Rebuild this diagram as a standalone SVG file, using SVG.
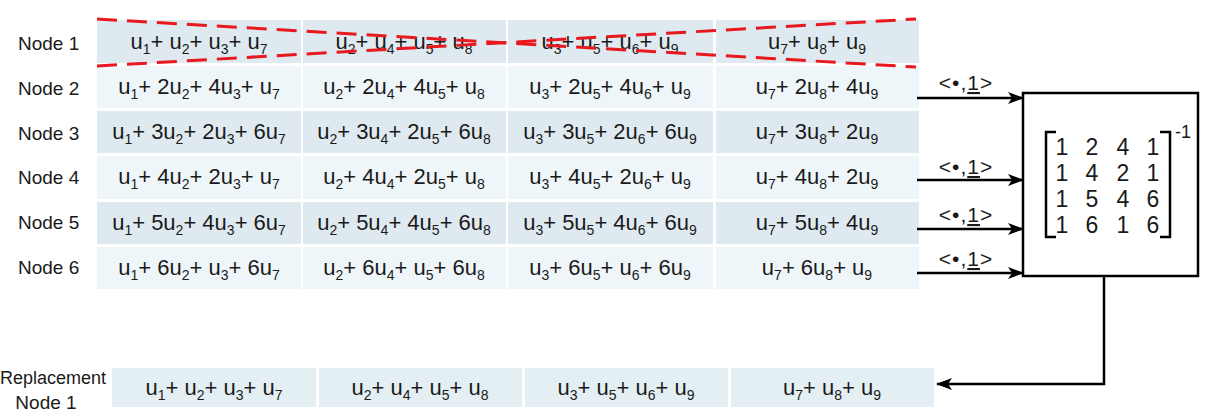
<svg xmlns="http://www.w3.org/2000/svg" width="1215" height="415" viewBox="0 0 1215 415">
<style>
text{font-family:"Liberation Sans",Arial,sans-serif;fill:#1a1a1a}
.lbl{font-size:19px}
.c{font-size:22px;text-anchor:middle}
.s{font-size:14px}
.dk{fill:#dfeaf0}
.lt{fill:#eff6f9}
.rp{fill:#e4eff3}
.m{font-size:23px;text-anchor:middle}
.ar{font-size:21px;text-anchor:middle;letter-spacing:1px}
.ln{stroke:#000;stroke-width:2.5;fill:none}
</style>
<defs>
<marker id="ah" viewBox="0 0 16 12" refX="15" refY="6" markerWidth="16" markerHeight="12" markerUnits="userSpaceOnUse" orient="auto">
<path d="M0,0 L16,6 L0,12 L4,6 z" fill="#000"/>
</marker>
</defs>
<rect width="1215" height="415" fill="#fff"/>

<g id="node1">
<text class="lbl" x="18" y="50">Node 1</text>
<rect class="dk" x="97" y="20" width="204" height="43"/>
<rect class="dk" x="303" y="20" width="203" height="43"/>
<rect class="dk" x="508" y="20" width="205" height="43"/>
<rect class="dk" x="716" y="20" width="203" height="43"/>
<text class="c" x="199" y="49">u<tspan class="s" dy="5">1</tspan><tspan dy="-5">+ u</tspan><tspan class="s" dy="5">2</tspan><tspan dy="-5">+ u</tspan><tspan class="s" dy="5">3</tspan><tspan dy="-5">+ u</tspan><tspan class="s" dy="5">7</tspan></text>
<text class="c" x="404" y="49">u<tspan class="s" dy="5">2</tspan><tspan dy="-5">+ u</tspan><tspan class="s" dy="5">4</tspan><tspan dy="-5">+ u</tspan><tspan class="s" dy="5">5</tspan><tspan dy="-5">+ u</tspan><tspan class="s" dy="5">8</tspan></text>
<text class="c" x="610" y="49">u<tspan class="s" dy="5">3</tspan><tspan dy="-5">+ u</tspan><tspan class="s" dy="5">5</tspan><tspan dy="-5">+ u</tspan><tspan class="s" dy="5">6</tspan><tspan dy="-5">+ u</tspan><tspan class="s" dy="5">9</tspan></text>
<text class="c" x="817" y="49">u<tspan class="s" dy="5">7</tspan><tspan dy="-5">+ u</tspan><tspan class="s" dy="5">8</tspan><tspan dy="-5">+ u</tspan><tspan class="s" dy="5">9</tspan></text>
</g>

<g id="node2">
<text class="lbl" x="18" y="95">Node 2</text>
<rect class="lt" x="97" y="66" width="204" height="42"/>
<rect class="lt" x="303" y="66" width="203" height="42"/>
<rect class="lt" x="508" y="66" width="205" height="42"/>
<rect class="lt" x="716" y="66" width="203" height="42"/>
<text class="c" x="199" y="94">u<tspan class="s" dy="5">1</tspan><tspan dy="-5">+ 2u</tspan><tspan class="s" dy="5">2</tspan><tspan dy="-5">+ 4u</tspan><tspan class="s" dy="5">3</tspan><tspan dy="-5">+ u</tspan><tspan class="s" dy="5">7</tspan></text>
<text class="c" x="404" y="94">u<tspan class="s" dy="5">2</tspan><tspan dy="-5">+ 2u</tspan><tspan class="s" dy="5">4</tspan><tspan dy="-5">+ 4u</tspan><tspan class="s" dy="5">5</tspan><tspan dy="-5">+ u</tspan><tspan class="s" dy="5">8</tspan></text>
<text class="c" x="610" y="94">u<tspan class="s" dy="5">3</tspan><tspan dy="-5">+ 2u</tspan><tspan class="s" dy="5">5</tspan><tspan dy="-5">+ 4u</tspan><tspan class="s" dy="5">6</tspan><tspan dy="-5">+ u</tspan><tspan class="s" dy="5">9</tspan></text>
<text class="c" x="817" y="94">u<tspan class="s" dy="5">7</tspan><tspan dy="-5">+ 2u</tspan><tspan class="s" dy="5">8</tspan><tspan dy="-5">+ 4u</tspan><tspan class="s" dy="5">9</tspan></text>
</g>

<g id="node3">
<text class="lbl" x="18" y="140">Node 3</text>
<rect class="dk" x="97" y="111" width="204" height="42"/>
<rect class="dk" x="303" y="111" width="203" height="42"/>
<rect class="dk" x="508" y="111" width="205" height="42"/>
<rect class="dk" x="716" y="111" width="203" height="42"/>
<text class="c" x="199" y="139">u<tspan class="s" dy="5">1</tspan><tspan dy="-5">+ 3u</tspan><tspan class="s" dy="5">2</tspan><tspan dy="-5">+ 2u</tspan><tspan class="s" dy="5">3</tspan><tspan dy="-5">+ 6u</tspan><tspan class="s" dy="5">7</tspan></text>
<text class="c" x="404" y="139">u<tspan class="s" dy="5">2</tspan><tspan dy="-5">+ 3u</tspan><tspan class="s" dy="5">4</tspan><tspan dy="-5">+ 2u</tspan><tspan class="s" dy="5">5</tspan><tspan dy="-5">+ 6u</tspan><tspan class="s" dy="5">8</tspan></text>
<text class="c" x="610" y="139">u<tspan class="s" dy="5">3</tspan><tspan dy="-5">+ 3u</tspan><tspan class="s" dy="5">5</tspan><tspan dy="-5">+ 2u</tspan><tspan class="s" dy="5">6</tspan><tspan dy="-5">+ 6u</tspan><tspan class="s" dy="5">9</tspan></text>
<text class="c" x="817" y="139">u<tspan class="s" dy="5">7</tspan><tspan dy="-5">+ 3u</tspan><tspan class="s" dy="5">8</tspan><tspan dy="-5">+ 2u</tspan><tspan class="s" dy="5">9</tspan></text>
</g>

<g id="node4">
<text class="lbl" x="18" y="184">Node 4</text>
<rect class="lt" x="97" y="156" width="204" height="43"/>
<rect class="lt" x="303" y="156" width="203" height="43"/>
<rect class="lt" x="508" y="156" width="205" height="43"/>
<rect class="lt" x="716" y="156" width="203" height="43"/>
<text class="c" x="199" y="184">u<tspan class="s" dy="5">1</tspan><tspan dy="-5">+ 4u</tspan><tspan class="s" dy="5">2</tspan><tspan dy="-5">+ 2u</tspan><tspan class="s" dy="5">3</tspan><tspan dy="-5">+ u</tspan><tspan class="s" dy="5">7</tspan></text>
<text class="c" x="404" y="184">u<tspan class="s" dy="5">2</tspan><tspan dy="-5">+ 4u</tspan><tspan class="s" dy="5">4</tspan><tspan dy="-5">+ 2u</tspan><tspan class="s" dy="5">5</tspan><tspan dy="-5">+ u</tspan><tspan class="s" dy="5">8</tspan></text>
<text class="c" x="610" y="184">u<tspan class="s" dy="5">3</tspan><tspan dy="-5">+ 4u</tspan><tspan class="s" dy="5">5</tspan><tspan dy="-5">+ 2u</tspan><tspan class="s" dy="5">6</tspan><tspan dy="-5">+ u</tspan><tspan class="s" dy="5">9</tspan></text>
<text class="c" x="817" y="184">u<tspan class="s" dy="5">7</tspan><tspan dy="-5">+ 4u</tspan><tspan class="s" dy="5">8</tspan><tspan dy="-5">+ 2u</tspan><tspan class="s" dy="5">9</tspan></text>
</g>

<g id="node5">
<text class="lbl" x="18" y="229">Node 5</text>
<rect class="dk" x="97" y="202" width="204" height="42"/>
<rect class="dk" x="303" y="202" width="203" height="42"/>
<rect class="dk" x="508" y="202" width="205" height="42"/>
<rect class="dk" x="716" y="202" width="203" height="42"/>
<text class="c" x="199" y="230">u<tspan class="s" dy="5">1</tspan><tspan dy="-5">+ 5u</tspan><tspan class="s" dy="5">2</tspan><tspan dy="-5">+ 4u</tspan><tspan class="s" dy="5">3</tspan><tspan dy="-5">+ 6u</tspan><tspan class="s" dy="5">7</tspan></text>
<text class="c" x="404" y="230">u<tspan class="s" dy="5">2</tspan><tspan dy="-5">+ 5u</tspan><tspan class="s" dy="5">4</tspan><tspan dy="-5">+ 4u</tspan><tspan class="s" dy="5">5</tspan><tspan dy="-5">+ 6u</tspan><tspan class="s" dy="5">8</tspan></text>
<text class="c" x="610" y="230">u<tspan class="s" dy="5">3</tspan><tspan dy="-5">+ 5u</tspan><tspan class="s" dy="5">5</tspan><tspan dy="-5">+ 4u</tspan><tspan class="s" dy="5">6</tspan><tspan dy="-5">+ 6u</tspan><tspan class="s" dy="5">9</tspan></text>
<text class="c" x="817" y="230">u<tspan class="s" dy="5">7</tspan><tspan dy="-5">+ 5u</tspan><tspan class="s" dy="5">8</tspan><tspan dy="-5">+ 4u</tspan><tspan class="s" dy="5">9</tspan></text>
</g>

<g id="node6">
<text class="lbl" x="18" y="274">Node 6</text>
<rect class="lt" x="97" y="247" width="204" height="42"/>
<rect class="lt" x="303" y="247" width="203" height="42"/>
<rect class="lt" x="508" y="247" width="205" height="42"/>
<rect class="lt" x="716" y="247" width="203" height="42"/>
<text class="c" x="199" y="275">u<tspan class="s" dy="5">1</tspan><tspan dy="-5">+ 6u</tspan><tspan class="s" dy="5">2</tspan><tspan dy="-5">+ u</tspan><tspan class="s" dy="5">3</tspan><tspan dy="-5">+ 6u</tspan><tspan class="s" dy="5">7</tspan></text>
<text class="c" x="404" y="275">u<tspan class="s" dy="5">2</tspan><tspan dy="-5">+ 6u</tspan><tspan class="s" dy="5">4</tspan><tspan dy="-5">+ u</tspan><tspan class="s" dy="5">5</tspan><tspan dy="-5">+ 6u</tspan><tspan class="s" dy="5">8</tspan></text>
<text class="c" x="610" y="275">u<tspan class="s" dy="5">3</tspan><tspan dy="-5">+ 6u</tspan><tspan class="s" dy="5">5</tspan><tspan dy="-5">+ u</tspan><tspan class="s" dy="5">6</tspan><tspan dy="-5">+ 6u</tspan><tspan class="s" dy="5">9</tspan></text>
<text class="c" x="817" y="275">u<tspan class="s" dy="5">7</tspan><tspan dy="-5">+ 6u</tspan><tspan class="s" dy="5">8</tspan><tspan dy="-5">+ u</tspan><tspan class="s" dy="5">9</tspan></text>
</g>

<g id="replacement">
<text class="lbl" x="106" y="384" text-anchor="end" style="font-size:18px">Replacement</text>
<text class="lbl" x="46" y="409" text-anchor="middle">Node 1</text>
<rect class="rp" x="112" y="368" width="204" height="39"/>
<rect class="rp" x="319" y="368" width="203" height="39"/>
<rect class="rp" x="525" y="368" width="203" height="39"/>
<rect class="rp" x="731" y="368" width="203" height="39"/>
<text class="c" x="214" y="395">u<tspan class="s" dy="5">1</tspan><tspan dy="-5">+ u</tspan><tspan class="s" dy="5">2</tspan><tspan dy="-5">+ u</tspan><tspan class="s" dy="5">3</tspan><tspan dy="-5">+ u</tspan><tspan class="s" dy="5">7</tspan></text>
<text class="c" x="420" y="395">u<tspan class="s" dy="5">2</tspan><tspan dy="-5">+ u</tspan><tspan class="s" dy="5">4</tspan><tspan dy="-5">+ u</tspan><tspan class="s" dy="5">5</tspan><tspan dy="-5">+ u</tspan><tspan class="s" dy="5">8</tspan></text>
<text class="c" x="626" y="395">u<tspan class="s" dy="5">3</tspan><tspan dy="-5">+ u</tspan><tspan class="s" dy="5">5</tspan><tspan dy="-5">+ u</tspan><tspan class="s" dy="5">6</tspan><tspan dy="-5">+ u</tspan><tspan class="s" dy="5">9</tspan></text>
<text class="c" x="832" y="395">u<tspan class="s" dy="5">7</tspan><tspan dy="-5">+ u</tspan><tspan class="s" dy="5">8</tspan><tspan dy="-5">+ u</tspan><tspan class="s" dy="5">9</tspan></text>
</g>

<g id="cross" stroke="#e8191e" stroke-width="3" stroke-dasharray="20,10" fill="none">
<line x1="97" y1="19" x2="916" y2="67"/>
<line x1="97" y1="66" x2="916" y2="19"/>
</g>

<g id="decoder">
<rect x="1023" y="93" width="175" height="183" fill="#fff" stroke="#000" stroke-width="2.5"/>
<path class="ln" d="M1056,132 H1046 V237 H1056" stroke-width="2.2"/>
<path class="ln" d="M1160,132 H1170 V237 H1160" stroke-width="2.2"/>
<text class="m" x="1062" y="155">1</text><text class="m" x="1092" y="155">2</text><text class="m" x="1123" y="155">4</text><text class="m" x="1153" y="155">1</text>
<text class="m" x="1062" y="181">1</text><text class="m" x="1092" y="181">4</text><text class="m" x="1123" y="181">2</text><text class="m" x="1153" y="181">1</text>
<text class="m" x="1062" y="207">1</text><text class="m" x="1092" y="207">5</text><text class="m" x="1123" y="207">4</text><text class="m" x="1153" y="207">6</text>
<text class="m" x="1062" y="233">1</text><text class="m" x="1092" y="233">6</text><text class="m" x="1123" y="233">1</text><text class="m" x="1153" y="233">6</text>
<text x="1175" y="138" style="font-size:18px">-1</text>
</g>

<g id="connectors">
<line class="ln" x1="917" y1="98" x2="1023" y2="98" marker-end="url(#ah)"/>
<line class="ln" x1="917" y1="180" x2="1023" y2="180" marker-end="url(#ah)"/>
<line class="ln" x1="917" y1="229" x2="1023" y2="229" marker-end="url(#ah)"/>
<line class="ln" x1="917" y1="273" x2="1023" y2="273" marker-end="url(#ah)"/>
<polyline class="ln" points="1104,276 1104,384 937,384" marker-end="url(#ah)"/>
<text class="ar" x="966" y="90">&lt;•,<tspan text-decoration="underline">1</tspan>&gt;</text>
<text class="ar" x="966" y="174">&lt;•,<tspan text-decoration="underline">1</tspan>&gt;</text>
<text class="ar" x="966" y="222">&lt;•,<tspan text-decoration="underline">1</tspan>&gt;</text>
<text class="ar" x="966" y="266">&lt;•,<tspan text-decoration="underline">1</tspan>&gt;</text>
</g>
</svg>
